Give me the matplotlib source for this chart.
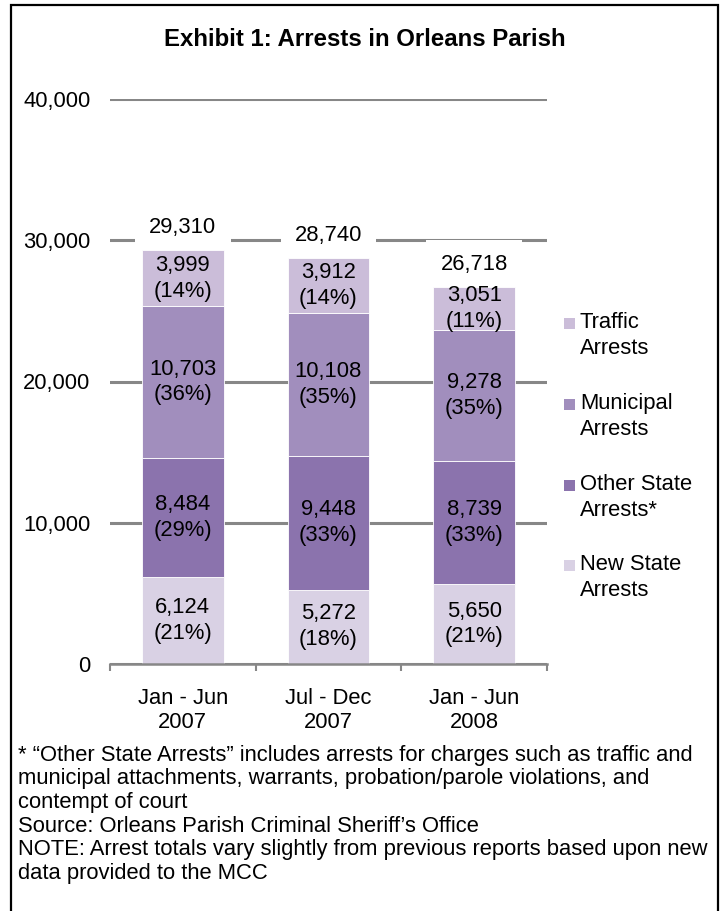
import matplotlib.pyplot as plt
from matplotlib.patches import Rectangle

periods = ["Jan - Jun\n2007", "Jul - Dec\n2007", "Jan - Jun\n2008"]
new_state = [6124, 5272, 5650]
other_state = [8484, 9448, 8739]
municipal = [10703, 10108, 9278]
traffic = [3999, 3912, 3051]
totals = [29310, 28740, 26718]
new_pct = [21, 18, 21]
other_pct = [29, 33, 33]
muni_pct = [36, 35, 35]
traffic_pct = [14, 14, 11]
y_ticks = [0, 10000, 20000, 30000, 40000]

series_names = ["New State\nArrests", "Other State\nArrests*",
                "Municipal\nArrests", "Traffic\nArrests"]
series_colors = ["#D9D1E4", "#8B73AD", "#A18EBD", "#CBBDD9"]

footnote = [
    "* \u201cOther State Arrests\u201d includes arrests for charges such as traffic and",
    "municipal attachments, warrants, probation/parole violations, and",
    "contempt of court",
    "Source: Orleans Parish Criminal Sheriff\u2019s Office",
    "NOTE: Arrest totals vary slightly from previous reports based upon new",
    "data provided to the MCC",
]

W, H = 723, 911
FS = 15.8
plt.rcParams['font.family'] = ['Liberation Sans', 'DejaVu Sans']


def fy(py):
    return 1 - py / H


fig = plt.figure(figsize=(W / 100, H / 100), dpi=100)
ax = fig.add_axes([110 / W, fy(664), 437 / W, 565 / H])

x = list(range(len(periods)))
width = 0.56
values = [new_state, other_state, municipal, traffic]
pcts = [new_pct, other_pct, muni_pct, traffic_pct]
bottom = [0, 0, 0]
for vals, pc, col in zip(values, pcts, series_colors):
    ax.bar(x, vals, width, bottom=bottom, color=col, edgecolor='white',
           linewidth=0.6, zorder=2)
    for i in x:
        ax.text(i, bottom[i] + vals[i] / 2, f"{vals[i]:,}\n({pc[i]}%)",
                ha='center', va='center', fontsize=FS, linespacing=1.3,
                zorder=4)
    bottom = [b + v for b, v in zip(bottom, vals)]

for i in x:
    ax.annotate(f"{totals[i]:,}", (i, totals[i]), xytext=(0, 16),
                textcoords='offset points', ha='center', va='center',
                fontsize=FS, zorder=1.5,
                bbox=dict(boxstyle='square,pad=0.65', fc='white', ec='none'))

ax.set_xlim(-0.5, 2.5)
ax.set_ylim(0, 40000)
ax.set_yticks(y_ticks)
ax.set_yticklabels([f"{t:,}" for t in y_ticks])
ax.yaxis.grid(True, color='#878787', linewidth=2.2, zorder=0.5)
ax.set_axisbelow(True)
ax.tick_params(axis='y', length=0, pad=14, labelsize=FS)

ax.set_xticks(x)
ax.set_xticklabels(periods, linespacing=1.2)
ax.set_xticks([-0.5, 0.5, 1.5, 2.5], minor=True)
ax.tick_params(axis='x', which='major', length=0, pad=17, labelsize=FS)
ax.tick_params(axis='x', which='minor', length=5, width=1.5, color='#878787')

for s in ['left', 'right', 'top']:
    ax.spines[s].set_visible(False)
ax.spines['bottom'].set_color('#878787')
ax.spines['bottom'].set_linewidth(1.8)

# legend, top entry first
leg_y = [323, 404, 485, 565]
for k, (name, col) in enumerate(zip(series_names[::-1], series_colors[::-1])):
    top = leg_y[k]
    fig.patches.append(Rectangle((564 / W, fy(top + 6)), 11 / W, 11 / H,
                                 transform=fig.transFigure, fc=col, ec='none'))
    fig.text(580 / W, fy(top - 11), name, ha='left', va='top',
             fontsize=FS, linespacing=1.32)

fig.text(365 / W, fy(40), "Exhibit 1: Arrests in Orleans Parish",
         ha='center', va='center', fontsize=17.3, fontweight='bold')

for k, line in enumerate(footnote):
    fig.text(18 / W, fy(755 + 23.7 * k), line, ha='left', va='center',
             fontsize=FS)

fig.patches.append(Rectangle((11 / W, -0.02), 707 / W, fy(5) + 0.02,
                             transform=fig.transFigure, fill=False,
                             ec='black', lw=1.6))

fig.savefig("out.png", dpi=100)
